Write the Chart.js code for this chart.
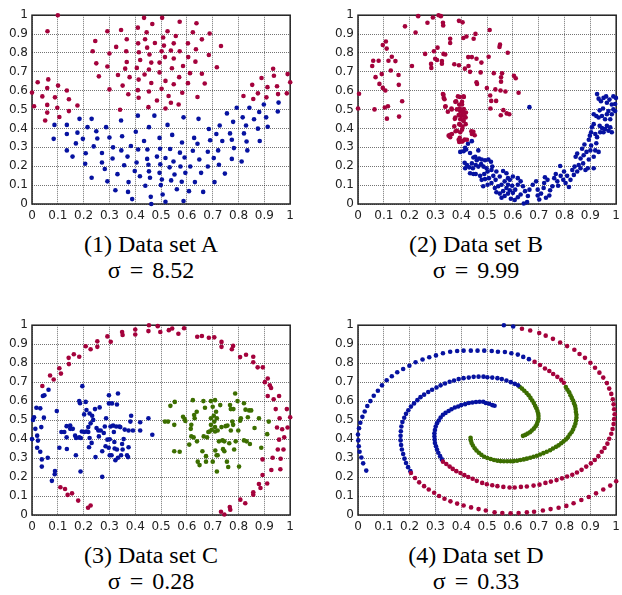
<!DOCTYPE html>
<html>
<head>
<meta charset="utf-8">
<script src="https://cdn.jsdelivr.net/npm/chart.js@4.4.0/dist/chart.umd.min.js"></script>
<style>
  body { margin: 0; background: #fff; width: 622px; height: 595px; position: relative; overflow: hidden; }
  .box { position: absolute; }
  .cap { position: absolute; width: 260px; text-align: center; font-family: 'Liberation Serif', 'Times New Roman', Times, 'DejaVu Serif', serif; font-size: 24px; line-height: 26px; color: #000; }
  .eq { margin: 0 9px; }
</style>
</head>
<body>
<div class="box" style="left:0;top:4px"><canvas id="c1" width="299" height="226"></canvas></div>
<div class="box" style="left:326px;top:4px"><canvas id="c2" width="299" height="226"></canvas></div>
<div class="box" style="left:0;top:314px"><canvas id="c3" width="299" height="227"></canvas></div>
<div class="box" style="left:326px;top:314px"><canvas id="c4" width="299" height="227"></canvas></div>
<div class="cap" id="t1" style="left:21px;top:231px"></div>
<div class="cap" id="t2" style="left:346px;top:231px"></div>
<div class="cap" id="t3" style="left:21px;top:542px"></div>
<div class="cap" id="t4" style="left:346px;top:542px"></div>
<script>
const tickLabels = ['0', '0.1', '0.2', '0.3', '0.4', '0.5', '0.6', '0.7', '0.8', '0.9', '1'];
const titles = ['(1) Data set A', '(2) Data set B', '(3) Data set C', '(4) Data set D'];
const sigmas = ['8.52', '9.99', '0.28', '0.33'];

const RED = '#a4023c';
const BLUE = '#0612a0';
const GREEN = '#3c6e00';

// Data set A
const aRed = [[0.10,1.00],[0.06,0.915],[0.0,0.59],[0.008,0.518],[0.022,0.645],[0.04,0.57],[0.063,0.66],[0.059,0.614],[0.059,0.525],[0.059,0.484],[0.051,0.442],[0.089,0.565],[0.101,0.627],[0.098,0.51],[0.106,0.461],[0.135,0.601],[0.143,0.555],[0.143,0.492],[0.176,0.522],[0.235,0.809],[0.245,0.863],[0.249,0.745],[0.259,0.676],[0.292,0.915],[0.30,0.797],[0.292,0.728],[0.30,0.607],[0.326,0.832],[0.345,0.922],[0.333,0.683],[0.351,0.627],[0.341,0.499],[0.367,0.873],[0.365,0.809],[0.367,0.752],[0.361,0.717],[0.373,0.581],[0.378,0.672],[0.41,0.934],[0.411,0.851],[0.414,0.804],[0.406,0.721],[0.419,0.763],[0.413,0.659],[0.41,0.603],[0.413,0.563],[0.434,0.986],[0.438,0.873],[0.444,0.91],[0.436,0.686],[0.446,0.828],[0.455,0.792],[0.453,0.712],[0.462,0.749],[0.462,0.641],[0.453,0.596],[0.451,0.513],[0.466,0.953],[0.476,0.853],[0.484,0.548],[0.494,0.749],[0.494,0.697],[0.502,0.809],[0.504,0.986],[0.508,0.882],[0.511,0.839],[0.502,0.61],[0.515,0.778],[0.517,0.652],[0.517,0.506],[0.525,0.915],[0.529,0.572],[0.538,0.813],[0.542,0.719],[0.538,0.536],[0.549,0.851],[0.549,0.771],[0.549,0.634],[0.557,0.89],[0.568,0.527],[0.572,0.965],[0.572,0.809],[0.57,0.672],[0.582,0.589],[0.585,0.731],[0.604,0.851],[0.605,0.778],[0.604,0.64],[0.612,0.693],[0.623,0.91],[0.635,0.82],[0.637,0.957],[0.633,0.754],[0.641,0.567],[0.658,0.872],[0.658,0.69],[0.669,0.638],[0.685,0.789],[0.688,0.903],[0.716,0.724],[0.732,0.837],[0.819,0.572],[0.853,0.631],[0.857,0.556],[0.875,0.586],[0.889,0.667],[0.908,0.565],[0.912,0.619],[0.934,0.716],[0.937,0.679],[0.949,0.624],[0.953,0.582],[0.99,0.688],[1.0,0.645],[0.987,0.586]];
const aBlue = [[0.087,0.419],[0.084,0.345],[0.135,0.419],[0.135,0.371],[0.135,0.284],[0.157,0.251],[0.17,0.321],[0.176,0.378],[0.184,0.451],[0.197,0.345],[0.208,0.269],[0.206,0.213],[0.215,0.407],[0.231,0.451],[0.231,0.139],[0.239,0.305],[0.249,0.385],[0.253,0.347],[0.271,0.27],[0.271,0.22],[0.282,0.185],[0.287,0.407],[0.292,0.12],[0.30,0.352],[0.314,0.30],[0.312,0.241],[0.323,0.073],[0.331,0.158],[0.345,0.442],[0.349,0.359],[0.346,0.284],[0.357,0.205],[0.37,0.251],[0.372,0.064],[0.374,0.116],[0.383,0.307],[0.388,0.026],[0.398,0.175],[0.402,0.383],[0.405,0.22],[0.41,0.468],[0.411,0.289],[0.418,0.147],[0.434,0.334],[0.439,0.097],[0.447,0.289],[0.446,0.239],[0.451,0.208],[0.453,0.407],[0.453,0.173],[0.457,0.139],[0.46,0.038],[0.462,0.0],[0.474,0.468],[0.484,0.251],[0.494,0.35],[0.496,0.293],[0.497,0.21],[0.494,0.165],[0.499,0.10],[0.503,0.13],[0.506,0.05],[0.517,0.012],[0.517,0.244],[0.525,0.419],[0.533,0.194],[0.535,0.291],[0.539,0.125],[0.543,0.366],[0.548,0.225],[0.552,0.156],[0.561,0.078],[0.573,0.272],[0.575,0.199],[0.581,0.326],[0.58,0.118],[0.587,0.459],[0.587,0.016],[0.591,0.246],[0.594,0.165],[0.608,0.068],[0.613,0.199],[0.623,0.282],[0.628,0.35],[0.631,0.116],[0.641,0.319],[0.645,0.451],[0.648,0.236],[0.655,0.165],[0.663,0.064],[0.681,0.199],[0.681,0.277],[0.685,0.397],[0.69,0.338],[0.704,0.243],[0.707,0.116],[0.714,0.371],[0.721,0.284],[0.724,0.208],[0.727,0.416],[0.737,0.334],[0.747,0.161],[0.755,0.48],[0.767,0.374],[0.774,0.34],[0.774,0.239],[0.779,0.435],[0.782,0.296],[0.793,0.51],[0.812,0.225],[0.816,0.459],[0.821,0.374],[0.829,0.416],[0.831,0.331],[0.834,0.284],[0.842,0.51],[0.86,0.449],[0.875,0.399],[0.88,0.487],[0.882,0.334],[0.898,0.527],[0.907,0.459],[0.913,0.409],[0.952,0.49],[0.955,0.537]];

// Data set B
const bRed = [[0.004,0.584],[0.0,0.506],[0.064,0.501],[0.055,0.731],[0.059,0.759],[0.068,0.672],[0.08,0.759],[0.083,0.636],[0.092,0.688],[0.096,0.842],[0.096,0.615],[0.108,0.861],[0.111,0.823],[0.106,0.601],[0.104,0.511],[0.116,0.518],[0.112,0.452],[0.118,0.759],[0.127,0.707],[0.131,0.78],[0.145,0.757],[0.157,0.683],[0.158,0.631],[0.159,0.463],[0.171,0.544],[0.182,0.941],[0.209,0.731],[0.223,0.908],[0.233,0.995],[0.26,0.795],[0.269,0.96],[0.283,0.742],[0.284,0.721],[0.29,0.988],[0.294,0.809],[0.299,0.769],[0.308,0.828],[0.306,0.763],[0.312,1.0],[0.321,0.995],[0.325,0.757],[0.329,0.96],[0.33,0.946],[0.331,0.795],[0.325,0.743],[0.338,0.792],[0.331,0.579],[0.335,0.555],[0.338,0.515],[0.348,0.489],[0.357,0.875],[0.357,0.853],[0.363,0.501],[0.373,0.74],[0.38,0.544],[0.375,0.451],[0.373,0.411],[0.378,0.385],[0.357,0.367],[0.357,0.354],[0.391,0.97],[0.391,0.735],[0.395,0.567],[0.394,0.506],[0.399,0.489],[0.403,0.541],[0.405,0.962],[0.408,0.879],[0.41,0.567],[0.401,0.466],[0.408,0.445],[0.41,0.503],[0.418,0.485],[0.417,0.458],[0.397,0.419],[0.403,0.393],[0.42,0.887],[0.414,0.717],[0.417,0.423],[0.394,0.35],[0.405,0.333],[0.392,0.329],[0.413,0.341],[0.427,0.778],[0.428,0.731],[0.434,0.70],[0.441,0.778],[0.439,0.385],[0.448,0.875],[0.455,0.901],[0.459,0.769],[0.459,0.645],[0.461,0.636],[0.452,0.364],[0.478,0.749],[0.475,0.697],[0.51,0.922],[0.506,0.78],[0.499,0.614],[0.512,0.575],[0.516,0.546],[0.513,0.506],[0.526,0.693],[0.535,0.546],[0.532,0.607],[0.55,0.844],[0.548,0.832],[0.552,0.601],[0.554,0.648],[0.554,0.671],[0.558,0.692],[0.553,0.47],[0.563,0.497],[0.571,0.596],[0.58,0.801],[0.576,0.48],[0.586,0.475],[0.604,0.679],[0.611,0.666],[0.622,0.589],[0.329,0.582],[0.332,0.562],[0.339,0.518],[0.362,0.506],[0.377,0.541],[0.387,0.57],[0.409,0.57],[0.392,0.527],[0.403,0.527],[0.383,0.501],[0.396,0.492],[0.405,0.484],[0.39,0.471],[0.413,0.466],[0.396,0.449],[0.409,0.44],[0.377,0.458],[0.392,0.423],[0.405,0.409],[0.383,0.388],[0.396,0.38],[0.364,0.371],[0.351,0.362],[0.39,0.34],[0.403,0.331],[0.441,0.371],[0.447,0.383],[0.422,0.34]];
const bBlue = [[0.396,0.276],[0.409,0.279],[0.419,0.289],[0.426,0.319],[0.441,0.333],[0.415,0.298],[0.434,0.27],[0.466,0.284],[0.447,0.246],[0.454,0.25],[0.46,0.232],[0.469,0.241],[0.479,0.236],[0.492,0.232],[0.505,0.236],[0.515,0.224],[0.52,0.198],[0.413,0.218],[0.422,0.206],[0.415,0.189],[0.431,0.194],[0.441,0.215],[0.445,0.189],[0.456,0.206],[0.466,0.198],[0.477,0.211],[0.486,0.198],[0.498,0.189],[0.434,0.163],[0.447,0.159],[0.456,0.159],[0.473,0.149],[0.489,0.159],[0.502,0.172],[0.517,0.18],[0.479,0.128],[0.492,0.132],[0.507,0.137],[0.524,0.149],[0.536,0.172],[0.485,0.094],[0.502,0.102],[0.517,0.111],[0.533,0.128],[0.549,0.146],[0.562,0.175],[0.575,0.163],[0.581,0.137],[0.53,0.085],[0.543,0.094],[0.556,0.102],[0.568,0.12],[0.588,0.128],[0.6,0.146],[0.619,0.137],[0.536,0.062],[0.549,0.055],[0.562,0.068],[0.575,0.085],[0.581,0.102],[0.597,0.097],[0.556,0.033],[0.568,0.042],[0.581,0.055],[0.588,0.073],[0.6,0.059],[0.609,0.076],[0.619,0.102],[0.63,0.12],[0.639,0.094],[0.592,0.028],[0.607,0.021],[0.619,0.036],[0.63,0.05],[0.647,0.068],[0.642,0.003],[0.655,0.01],[0.658,0.042],[0.664,0.076],[0.677,0.102],[0.69,0.12],[0.696,0.076],[0.696,0.045],[0.702,0.024],[0.709,0.055],[0.719,0.085],[0.721,0.111],[0.724,0.142],[0.734,0.128],[0.728,0.033],[0.741,0.045],[0.744,0.073],[0.753,0.094],[0.76,0.137],[0.766,0.159],[0.772,0.12],[0.775,0.097],[0.783,0.201],[0.785,0.149],[0.795,0.128],[0.798,0.172],[0.804,0.111],[0.81,0.149],[0.817,0.09],[0.823,0.128],[0.83,0.18],[0.836,0.154],[0.839,0.198],[0.849,0.172],[0.855,0.206],[0.862,0.189],[0.862,0.241],[0.872,0.215],[0.881,0.18],[0.89,0.189],[0.874,0.258],[0.885,0.276],[0.894,0.236],[0.9,0.284],[0.903,0.31],[0.913,0.189],[0.913,0.25],[0.919,0.284],[0.923,0.322],[0.932,0.276],[0.843,0.25],[0.849,0.267],[0.868,0.293],[0.877,0.315],[0.894,0.34],[0.898,0.362],[0.903,0.38],[0.906,0.406],[0.913,0.423],[0.919,0.371],[0.926,0.354],[0.938,0.38],[0.936,0.414],[0.945,0.402],[0.951,0.38],[0.957,0.397],[0.964,0.414],[0.97,0.388],[0.977,0.406],[0.983,0.38],[0.913,0.475],[0.923,0.466],[0.932,0.458],[0.936,0.496],[0.949,0.506],[0.945,0.466],[0.957,0.449],[0.964,0.475],[0.97,0.492],[0.977,0.449],[0.983,0.475],[0.989,0.501],[0.926,0.582],[0.932,0.558],[0.941,0.544],[0.951,0.562],[0.961,0.57],[0.964,0.536],[0.974,0.553],[0.983,0.527],[0.989,0.57],[0.999,0.562],[0.996,0.53],[0.996,0.492],[0.664,0.513]];

// Data set C
const cRed = [[0.04,0.68],[0.07,0.735],[0.084,0.714],[0.106,0.773],[0.112,0.745],[0.142,0.828],[0.143,0.795],[0.162,0.847],[0.183,0.834],[0.208,0.889],[0.227,0.873],[0.253,0.915],[0.253,0.886],[0.292,0.941],[0.305,0.913],[0.349,0.964],[0.351,0.948],[0.40,0.977],[0.40,0.951],[0.451,0.969],[0.453,1.0],[0.487,0.995],[0.497,0.964],[0.53,0.974],[0.543,0.983],[0.567,0.955],[0.589,0.984],[0.64,0.939],[0.658,0.943],[0.685,0.934],[0.706,0.936],[0.734,0.912],[0.734,0.886],[0.774,0.873],[0.779,0.891],[0.806,0.832],[0.829,0.844],[0.857,0.834],[0.857,0.805],[0.874,0.778],[0.894,0.778],[0.902,0.70],[0.913,0.719],[0.921,0.683],[0.926,0.669],[0.913,0.627],[0.936,0.61],[0.957,0.627],[0.944,0.558],[0.959,0.51],[0.987,0.558],[1.0,0.515],[0.949,0.461],[0.969,0.452],[0.99,0.461],[0.957,0.397],[0.977,0.409],[0.952,0.345],[0.974,0.345],[0.932,0.302],[0.963,0.296],[0.927,0.237],[0.962,0.241],[0.893,0.293],[0.893,0.211],[0.911,0.166],[0.879,0.163],[0.885,0.142],[0.857,0.12],[0.857,0.107],[0.826,0.062],[0.807,0.081],[0.766,0.042],[0.768,0.028],[0.732,0.017],[0.745,0.003],[0.179,0.076],[0.155,0.114],[0.138,0.106],[0.128,0.137],[0.11,0.146],[0.217,0.038],[0.227,0.05]];
const cBlue = [[0.0,0.40],[0.004,0.501],[0.008,0.515],[0.013,0.454],[0.017,0.565],[0.02,0.418],[0.023,0.392],[0.02,0.354],[0.032,0.562],[0.036,0.463],[0.032,0.333],[0.038,0.293],[0.038,0.255],[0.042,0.627],[0.048,0.631],[0.046,0.513],[0.064,0.66],[0.061,0.302],[0.077,0.18],[0.088,0.215],[0.089,0.232],[0.096,0.548],[0.106,0.354],[0.114,0.437],[0.125,0.437],[0.134,0.468],[0.134,0.409],[0.135,0.348],[0.148,0.471],[0.148,0.454],[0.158,0.454],[0.167,0.418],[0.17,0.315],[0.171,0.406],[0.183,0.409],[0.183,0.60],[0.186,0.589],[0.188,0.229],[0.189,0.406],[0.193,0.44],[0.195,0.679],[0.202,0.437],[0.202,0.53],[0.208,0.596],[0.211,0.44],[0.211,0.553],[0.218,0.463],[0.218,0.437],[0.221,0.357],[0.223,0.406],[0.223,0.535],[0.227,0.483],[0.231,0.38],[0.233,0.523],[0.237,0.501],[0.244,0.558],[0.246,0.305],[0.25,0.458],[0.257,0.445],[0.259,0.414],[0.262,0.567],[0.266,0.445],[0.272,0.336],[0.272,0.201],[0.278,0.432],[0.282,0.466],[0.285,0.362],[0.287,0.51],[0.292,0.397],[0.297,0.354],[0.298,0.631],[0.298,0.588],[0.301,0.399],[0.301,0.315],[0.304,0.466],[0.308,0.315],[0.31,0.588],[0.314,0.471],[0.317,0.437],[0.319,0.385],[0.32,0.35],[0.323,0.289],[0.326,0.466],[0.329,0.582],[0.329,0.345],[0.333,0.64],[0.333,0.302],[0.338,0.466],[0.342,0.463],[0.345,0.315],[0.349,0.374],[0.351,0.345],[0.355,0.40],[0.359,0.45],[0.368,0.315],[0.372,0.305],[0.374,0.357],[0.374,0.445],[0.381,0.492],[0.384,0.523],[0.391,0.445],[0.419,0.489],[0.419,0.445],[0.451,0.51],[0.466,0.423]];
const cGreen = [[0.515,0.492],[0.527,0.492],[0.536,0.575],[0.553,0.596],[0.551,0.475],[0.551,0.336],[0.572,0.333],[0.585,0.518],[0.591,0.506],[0.594,0.495],[0.617,0.475],[0.615,0.454],[0.609,0.371],[0.617,0.414],[0.623,0.605],[0.628,0.527],[0.63,0.51],[0.626,0.409],[0.638,0.544],[0.639,0.388],[0.642,0.281],[0.649,0.263],[0.66,0.336],[0.664,0.60],[0.665,0.414],[0.67,0.565],[0.674,0.31],[0.674,0.281],[0.678,0.409],[0.683,0.437],[0.688,0.44],[0.693,0.60],[0.693,0.51],[0.693,0.475],[0.696,0.449],[0.7,0.281],[0.7,0.57],[0.704,0.523],[0.706,0.492],[0.709,0.605],[0.713,0.544],[0.709,0.463],[0.709,0.44],[0.71,0.34],[0.715,0.315],[0.716,0.229],[0.719,0.315],[0.719,0.445],[0.716,0.51],[0.724,0.388],[0.729,0.579],[0.734,0.463],[0.738,0.393],[0.74,0.347],[0.745,0.336],[0.745,0.388],[0.75,0.468],[0.755,0.281],[0.757,0.471],[0.76,0.253],[0.764,0.378],[0.767,0.579],[0.77,0.558],[0.77,0.445],[0.776,0.492],[0.779,0.475],[0.78,0.558],[0.783,0.345],[0.787,0.64],[0.789,0.388],[0.796,0.60],[0.799,0.445],[0.802,0.255],[0.806,0.497],[0.809,0.51],[0.821,0.589],[0.821,0.393],[0.827,0.555],[0.831,0.388],[0.836,0.515],[0.841,0.551],[0.844,0.374],[0.849,0.551],[0.862,0.458],[0.879,0.51],[0.888,0.354],[0.911,0.426],[0.917,0.492]];

// Data set D
const dBlue = [[0.032,0.234],[0.02,0.272],[0.013,0.303],[0.006,0.333],[0.003,0.362],[0.001,0.393],[0.0,0.424],[0.004,0.457],[0.009,0.486],[0.017,0.517],[0.026,0.545],[0.036,0.574],[0.048,0.60],[0.061,0.628],[0.077,0.655],[0.093,0.683],[0.111,0.71],[0.131,0.731],[0.152,0.752],[0.175,0.769],[0.199,0.786],[0.223,0.805],[0.25,0.819],[0.276,0.831],[0.302,0.841],[0.329,0.852],[0.357,0.86],[0.384,0.864],[0.409,0.866],[0.437,0.866],[0.463,0.866],[0.489,0.866],[0.518,0.864],[0.542,0.86],[0.569,0.859],[0.594,0.852],[0.619,0.845],[0.64,0.833],[0.662,0.821],
  [0.565,1.0],[0.601,0.993],
  [0.325,0.293],[0.318,0.31],[0.311,0.328],[0.306,0.345],[0.302,0.362],[0.298,0.379],[0.297,0.397],[0.296,0.414],[0.296,0.431],[0.298,0.448],[0.301,0.466],[0.306,0.483],[0.313,0.498],[0.32,0.514],[0.329,0.528],[0.339,0.538],[0.351,0.548],[0.362,0.557],[0.375,0.566],[0.388,0.572],[0.40,0.579],[0.415,0.584],[0.429,0.59],[0.443,0.593],[0.457,0.595],[0.471,0.597],[0.485,0.597],[0.495,0.59],[0.508,0.586],[0.52,0.579],[0.529,0.576],
  [0.203,0.231],[0.194,0.252],[0.186,0.274],[0.18,0.297],[0.175,0.321],[0.17,0.345],[0.167,0.369],[0.165,0.393],[0.165,0.417],[0.166,0.441],[0.168,0.466],[0.172,0.49],[0.179,0.512],[0.186,0.533],[0.195,0.552],[0.205,0.571],[0.217,0.588],[0.23,0.605],[0.242,0.621],[0.256,0.634],[0.272,0.648],[0.287,0.66],[0.304,0.672],[0.32,0.683],[0.337,0.693],[0.355,0.702],[0.372,0.709],[0.39,0.716],[0.409,0.721],[0.429,0.724],[0.448,0.728],[0.467,0.729],[0.486,0.729],[0.501,0.726],[0.52,0.724],[0.54,0.721],[0.557,0.716],[0.575,0.709],[0.592,0.70],[0.607,0.691],[0.62,0.683]];
const dRed = [[0.684,0.807],[0.705,0.79],[0.724,0.772],[0.741,0.759],[0.756,0.743],[0.772,0.728],[0.787,0.712],[0.797,0.697],
  [0.635,0.981],[0.667,0.972],[0.702,0.959],[0.727,0.945],[0.755,0.928],[0.783,0.909],[0.81,0.89],[0.838,0.871],[0.858,0.848],[0.879,0.828],[0.90,0.802],[0.918,0.776],[0.935,0.75],[0.95,0.724],[0.964,0.695],[0.973,0.666],[0.981,0.638],[0.987,0.61],[0.99,0.583],[0.992,0.557],[0.994,0.531],[0.992,0.505],[0.99,0.479],[0.986,0.453],[0.981,0.428],[0.973,0.402],[0.966,0.376],[0.955,0.353],[0.944,0.333],[0.931,0.31],[0.917,0.29],[0.902,0.272],[0.884,0.255],[0.866,0.238],[0.848,0.224],[0.83,0.212],[0.81,0.203],[0.79,0.193],[0.769,0.184],[0.747,0.176],[0.726,0.169],[0.703,0.16],[0.68,0.155],[0.654,0.15],[0.631,0.148],[0.607,0.145],[0.587,0.145],[0.563,0.148],[0.54,0.152],[0.52,0.157],[0.499,0.162],[0.481,0.169],[0.46,0.18],[0.444,0.191],[0.427,0.2],[0.412,0.21],[0.397,0.221],[0.381,0.231],[0.367,0.243],[0.355,0.255],[0.342,0.269],[0.329,0.281],
  [0.205,0.221],[0.221,0.195],[0.237,0.172],[0.256,0.152],[0.274,0.134],[0.295,0.117],[0.314,0.10],[0.335,0.086],[0.358,0.072],[0.384,0.06],[0.409,0.05],[0.438,0.04],[0.467,0.031],[0.495,0.024],[0.529,0.014],[0.559,0.01],[0.591,0.009],[0.622,0.01],[0.654,0.014],[0.682,0.017],[0.716,0.024],[0.746,0.031],[0.777,0.038],[0.807,0.048],[0.835,0.062],[0.865,0.079],[0.894,0.095],[0.922,0.114],[0.95,0.134],[0.977,0.155],[1.0,0.178]];
const dGreen = [[0.805,0.674],[0.811,0.66],[0.818,0.647],[0.823,0.631],[0.828,0.617],[0.833,0.603],[0.837,0.588],[0.841,0.574],[0.843,0.559],[0.844,0.543],[0.846,0.528],[0.846,0.512],[0.844,0.497],[0.842,0.481],[0.838,0.466],[0.833,0.45],[0.827,0.436],[0.82,0.424],[0.813,0.41],[0.805,0.398],[0.796,0.388],[0.787,0.378],[0.777,0.367],[0.767,0.359],[0.755,0.35],[0.744,0.341],[0.731,0.333],[0.718,0.326],[0.705,0.319],[0.693,0.312],[0.68,0.307],[0.667,0.302],[0.654,0.297],[0.642,0.293],[0.629,0.29],[0.616,0.286],[0.603,0.284],[0.591,0.283],[0.578,0.283],[0.565,0.283],[0.552,0.284],[0.54,0.286],[0.527,0.29],[0.514,0.295],[0.501,0.30],[0.489,0.307],[0.478,0.317],[0.468,0.328],[0.459,0.34],[0.452,0.352],[0.445,0.366],[0.44,0.379],[0.437,0.393],[0.436,0.407],
  [0.626,0.676],[0.635,0.666],[0.644,0.655],[0.653,0.643],[0.661,0.631],[0.668,0.617],[0.675,0.603],[0.681,0.59],[0.686,0.576],[0.691,0.562],[0.695,0.548],[0.698,0.534],[0.699,0.521],[0.699,0.507],[0.696,0.493],[0.693,0.479],[0.688,0.467],[0.681,0.455],[0.673,0.445],[0.666,0.436],[0.657,0.429],[0.648,0.422],[0.639,0.417]];

const pts = arr => arr.map(([x, y]) => ({x, y}));

const framePlugin = {
  id: 'frame',
  beforeDatasetsDraw(chart) {
    const {ctx, chartArea: a} = chart;
    ctx.save();
    ctx.strokeStyle = '#222';
    ctx.lineWidth = 1.5;
    ctx.strokeRect(a.left, a.top, a.right - a.left, a.bottom - a.top);
    ctx.restore();
  }
};

function axis(isX) {
  return {
    type: 'linear',
    min: 0,
    max: 1,
    border: {display: false, dash: [1, 1]},
    grid: {color: 'rgba(0,0,0,0.55)', lineWidth: 1, drawTicks: false},
    ticks: {
      stepSize: 0.1,
      padding: isX ? 5 : 4,
      color: '#222',
      font: {family: 'DejaVu Sans', size: 12},
      callback: (v, i) => tickLabels[i]
    },
    afterFit: s => { if (isX) s.height = 26; else s.width = 32; }
  };
}

function makeChart(id, groups) {
  new Chart(document.getElementById(id), {
    type: 'scatter',
    data: {
      datasets: groups.map(g => ({
        data: pts(g[0]),
        backgroundColor: g[1],
        borderWidth: 0,
        pointRadius: 2.3,
        pointHoverRadius: 2.3,
        clip: 4
      }))
    },
    options: {
      responsive: false,
      animation: false,
      devicePixelRatio: 1,
      layout: {padding: {top: 8, right: 6, left: 0, bottom: 0}},
      plugins: {legend: {display: false}, tooltip: {enabled: false}},
      scales: {x: axis(true), y: axis(false)}
    },
    plugins: [framePlugin]
  });
}

makeChart('c1', [[aRed, RED], [aBlue, BLUE]]);
makeChart('c2', [[bRed, RED], [bBlue, BLUE]]);
makeChart('c3', [[cRed, RED], [cBlue, BLUE], [cGreen, GREEN]]);
makeChart('c4', [[dRed, RED], [dBlue, BLUE], [dGreen, GREEN]]);

titles.forEach((t, i) => {
  const el = document.getElementById('t' + (i + 1));
  el.innerHTML = t + '<br>σ<span class="eq">=</span>' + sigmas[i];
});
</script>
</body>
</html>
